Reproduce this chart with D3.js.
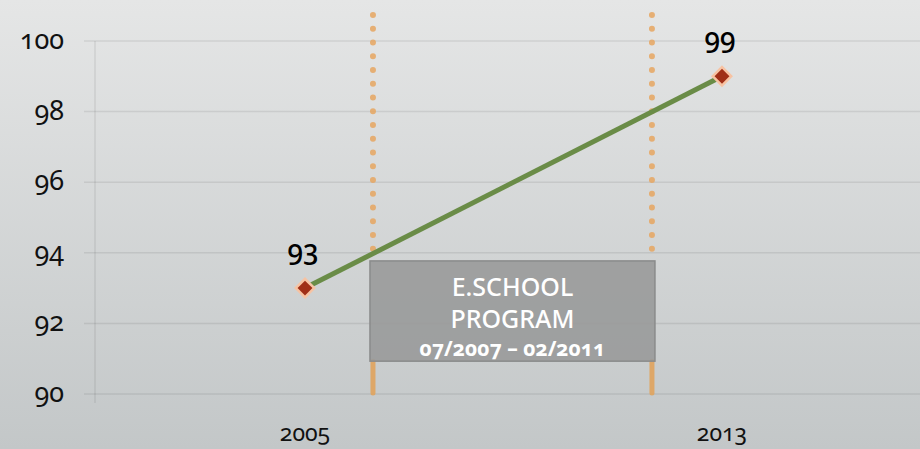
<!DOCTYPE html>
<html>
<head>
<meta charset="utf-8">
<script src="https://cdn.jsdelivr.net/npm/d3@7"></script>
<style>
  html, body { margin: 0; padding: 0; }
  svg { display: block; font-family: "Noto Sans", "Open Sans", sans-serif; font-feature-settings: "onum"; }
</style>
</head>
<body>
<svg id="chart" width="920" height="449"></svg>
<script>
const years = ["2005", "2013"];
const values = [93, 99];
const yTicks = [90, 92, 94, 96, 98, 100];
// program window, placed on a 0..1 scale between the two years
const programStart = 0.163;
const programEnd = 0.832;
const programLines = ["E.SCHOOL", "PROGRAM", "07/2007 \u2013 02/2011"];

const width = 920, height = 449;
const svg = d3.select("#chart");

const defs = svg.append("defs");
const grad = defs.append("linearGradient")
    .attr("id", "bg").attr("x1", 0).attr("y1", 0).attr("x2", 0).attr("y2", 1);
grad.append("stop").attr("offset", "0%").attr("stop-color", "#e5e6e6");
grad.append("stop").attr("offset", "100%").attr("stop-color", "#c3c7c8");

svg.append("rect").attr("width", width).attr("height", height).attr("fill", "url(#bg)");

const x = d3.scalePoint()
    .domain(years)
    .range([305, 722]);

// continuous version of x for the annotation
const xt = d3.scaleLinear().domain([0, 1]).range([x(years[0]), x(years[1])]);

const y = d3.scaleLinear()
    .domain([90, 100])
    .range([394, 41]);

const plotLeft = 95;

// gridlines
svg.append("g")
    .selectAll("line")
    .data(yTicks)
    .join("line")
    .attr("x1", plotLeft - 11)
    .attr("x2", width)
    .attr("y1", d => y(d))
    .attr("y2", d => y(d))
    .attr("stroke", "#000")
    .attr("stroke-opacity", 0.08)
    .attr("stroke-width", 1.5);

// vertical axis line
svg.append("line")
    .attr("x1", plotLeft).attr("x2", plotLeft)
    .attr("y1", y(100)).attr("y2", y(90) + 9)
    .attr("stroke", "#000").attr("stroke-opacity", 0.08).attr("stroke-width", 1.5);

// y tick labels
svg.append("g")
    .selectAll("text")
    .data(yTicks)
    .join("text")
    .attr("x", 64)
    .attr("y", d => y(d) + 8)
    .attr("text-anchor", "end")
    .attr("font-size", 27)
    .attr("fill", "#111")
    .text(d => d);

// x tick labels
svg.append("g")
    .selectAll("text")
    .data(years)
    .join("text")
    .attr("x", d => x(d))
    .attr("y", 441)
    .attr("text-anchor", "middle")
    .attr("font-size", 23)
    .attr("fill", "#111")
    .text(d => d);

// program markers: dotted part above the box, solid part below
const boxTop = y(93.77), boxBottom = y(90.93);
const markers = [programStart, programEnd];

svg.append("g")
    .selectAll("line")
    .data(markers)
    .join("line")
    .attr("x1", d => xt(d)).attr("x2", d => xt(d))
    .attr("y1", y(100.74)).attr("y2", boxTop)
    .attr("stroke", "#e6a660")
    .attr("stroke-opacity", 0.85)
    .attr("stroke-width", 6)
    .attr("stroke-linecap", "round")
    .attr("stroke-dasharray", "0 13.75");

svg.append("g")
    .selectAll("line")
    .data(markers)
    .join("line")
    .attr("x1", d => xt(d)).attr("x2", d => xt(d))
    .attr("y1", boxBottom).attr("y2", y(90) - 1)
    .attr("stroke", "#e0a35d")
    .attr("stroke-opacity", 0.9)
    .attr("stroke-width", 5)
    .attr("stroke-linecap", "round");

// the data line
const line = d3.line()
    .x((d, i) => x(years[i]))
    .y(d => y(d));

svg.append("path")
    .datum(values)
    .attr("d", line)
    .attr("fill", "none")
    .attr("stroke", "#6a8c47")
    .attr("stroke-width", 5);

// program box
const box = svg.append("g");
box.append("rect")
    .attr("x", xt(programStart) - 3)
    .attr("y", boxTop)
    .attr("width", xt(programEnd) - xt(programStart) + 6)
    .attr("height", boxBottom - boxTop)
    .attr("fill", "#999a9a")
    .attr("fill-opacity", 0.9)
    .attr("stroke", "#8a8b8b")
    .attr("stroke-width", 1.5);

const boxCx = (xt(programStart) + xt(programEnd)) / 2;
box.selectAll("text")
    .data(programLines)
    .join("text")
    .attr("x", boxCx)
    .attr("y", (d, i) => [296, 328, 356][i])
    .attr("text-anchor", "middle")
    .attr("fill", "#fff")
    .attr("font-size", (d, i) => i < 2 ? 25 : 21)
    .attr("font-weight", (d, i) => i < 2 ? 500 : 700)
    .text(d => d);

// markers
svg.append("g")
    .selectAll("path")
    .data(values)
    .join("path")
    .attr("d", d3.symbol(d3.symbolSquare, 170))
    .attr("transform", (d, i) => `translate(${x(years[i])},${y(d)}) rotate(45)`)
    .attr("fill", "#a02f17")
    .attr("stroke", "#f7c3a3")
    .attr("stroke-width", 2.5);

// value labels
svg.append("g")
    .selectAll("text")
    .data(values)
    .join("text")
    .attr("x", (d, i) => x(years[i]) - 2)
    .attr("y", d => y(d) - 28)
    .attr("text-anchor", "middle")
    .attr("font-size", 28)
    .attr("font-weight", 500)
    .attr("fill", "#000")
    .text(d => d);
</script>
</body>
</html>
